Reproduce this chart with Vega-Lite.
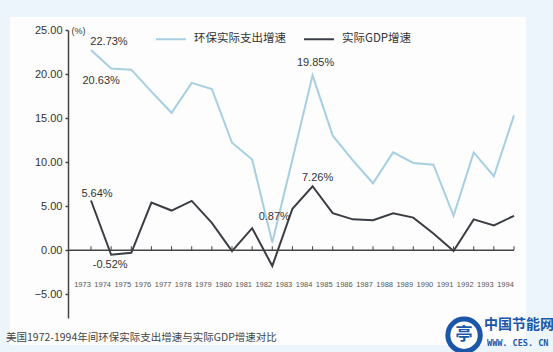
{
  "$schema": "https://vega.github.io/schema/vega-lite/v6.json",
  "width": 446,
  "height": 288,
  "autosize": {"type": "none"},
  "padding": {"left": 68, "top": 30, "right": 39, "bottom": 34},
  "background": "#ecf4fc",
  "config": {
    "view": {"stroke": null},
    "font": "Liberation Sans",
    "axisX": {"labelOverlap": false, "labelBound": false, "labelFlush": false}
  },
  "title": {
    "text": "美国1972-1994年间环保实际支出增速与实际GDP增速对比",
    "orient": "bottom",
    "anchor": "start",
    "frame": "group",
    "dx": -62,
    "dy": -13,
    "offset": -15,
    "font": "Noto Sans CJK SC",
    "fontSize": 10.5,
    "fontWeight": "normal",
    "color": "#444444"
  },
  "datasets": {
    "series": [
      {"year": 1973, "series": "环保实际支出增速", "value": 22.73},
      {"year": 1974, "series": "环保实际支出增速", "value": 20.63},
      {"year": 1975, "series": "环保实际支出增速", "value": 20.5},
      {"year": 1976, "series": "环保实际支出增速", "value": 18.0},
      {"year": 1977, "series": "环保实际支出增速", "value": 15.6},
      {"year": 1978, "series": "环保实际支出增速", "value": 19.0},
      {"year": 1979, "series": "环保实际支出增速", "value": 18.3},
      {"year": 1980, "series": "环保实际支出增速", "value": 12.2},
      {"year": 1981, "series": "环保实际支出增速", "value": 10.3},
      {"year": 1982, "series": "环保实际支出增速", "value": 0.87},
      {"year": 1983, "series": "环保实际支出增速", "value": 10.3},
      {"year": 1984, "series": "环保实际支出增速", "value": 19.85},
      {"year": 1985, "series": "环保实际支出增速", "value": 13.0},
      {"year": 1986, "series": "环保实际支出增速", "value": 10.2},
      {"year": 1987, "series": "环保实际支出增速", "value": 7.6},
      {"year": 1988, "series": "环保实际支出增速", "value": 11.1},
      {"year": 1989, "series": "环保实际支出增速", "value": 9.9},
      {"year": 1990, "series": "环保实际支出增速", "value": 9.7},
      {"year": 1991, "series": "环保实际支出增速", "value": 3.9},
      {"year": 1992, "series": "环保实际支出增速", "value": 11.1},
      {"year": 1993, "series": "环保实际支出增速", "value": 8.4},
      {"year": 1994, "series": "环保实际支出增速", "value": 15.3},
      {"year": 1973, "series": "实际GDP增速", "value": 5.64},
      {"year": 1974, "series": "实际GDP增速", "value": -0.52},
      {"year": 1975, "series": "实际GDP增速", "value": -0.3},
      {"year": 1976, "series": "实际GDP增速", "value": 5.4},
      {"year": 1977, "series": "实际GDP增速", "value": 4.5},
      {"year": 1978, "series": "实际GDP增速", "value": 5.6},
      {"year": 1979, "series": "实际GDP增速", "value": 3.1},
      {"year": 1980, "series": "实际GDP增速", "value": -0.1},
      {"year": 1981, "series": "实际GDP增速", "value": 2.5},
      {"year": 1982, "series": "实际GDP增速", "value": -1.8},
      {"year": 1983, "series": "实际GDP增速", "value": 4.7},
      {"year": 1984, "series": "实际GDP增速", "value": 7.26},
      {"year": 1985, "series": "实际GDP增速", "value": 4.2},
      {"year": 1986, "series": "实际GDP增速", "value": 3.5},
      {"year": 1987, "series": "实际GDP增速", "value": 3.4},
      {"year": 1988, "series": "实际GDP增速", "value": 4.2},
      {"year": 1989, "series": "实际GDP增速", "value": 3.7},
      {"year": 1990, "series": "实际GDP增速", "value": 1.9},
      {"year": 1991, "series": "实际GDP增速", "value": -0.1},
      {"year": 1992, "series": "实际GDP增速", "value": 3.5},
      {"year": 1993, "series": "实际GDP增速", "value": 2.8},
      {"year": 1994, "series": "实际GDP增速", "value": 3.9}
    ],
    "labels": [
      {"year": 1973, "series": "环保实际支出增速", "value": 22.73, "label": "22.73%"},
      {"year": 1974, "series": "环保实际支出增速", "value": 20.63, "label": "20.63%"},
      {"year": 1973, "series": "实际GDP增速", "value": 5.64, "label": "5.64%"},
      {"year": 1974, "series": "实际GDP增速", "value": -0.52, "label": "-0.52%"},
      {"year": 1982, "series": "环保实际支出增速", "value": 0.87, "label": "0.87%"},
      {"year": 1984, "series": "环保实际支出增速", "value": 19.85, "label": "19.85%"},
      {"year": 1984, "series": "实际GDP增速", "value": 7.26, "label": "7.26%"}
    ]
  },
  "layer": [
    {
      "data": {"values": [{}]},
      "mark": {"type": "rect", "fill": "#fdfdfd", "clip": false},
      "encoding": {
        "x": {
          "datum": 1968.98, "type": "quantitative", "title": null,
          "scale": {"domain": [1971.858, 1994], "nice": false, "zero": false},
          "axis": {
            "values": [1973,1974,1975,1976,1977,1978,1979,1980,1981,1982,1983,1984,1985,1986,1987,1988,1989,1990,1991,1992,1993,1994],
            "tickCount": 40,
            "format": "d", "offset": -40, "domain": false, "ticks": false, "tickSize": 0, "grid": false, "zindex": 2,
            "labelOffset": -9, "labelPadding": 2, "labelFont": "Liberation Sans", "labelFontSize": 7.5,
            "labelColor": "#555555", "labelFlush": false, "labelOverlap": false, "labelBound": false
          }
        },
        "x2": {"datum": 1994.6},
        "y": {
          "datum": 26.48, "type": "quantitative", "title": "(%)",
          "scale": {"domain": [-7.7, 25], "nice": false, "zero": false},
          "axis": {
            "values": [-5, 0, 5, 10, 15, 20, 25], "tickCount": 10, "format": ".2f", "grid": false, "zindex": 2,
            "domainColor": "#444444", "domainWidth": 1.5, "tickColor": "#444444", "tickSize": 3, "tickWidth": 1.5,
            "labelFontSize": 11, "labelColor": "#333333", "labelPadding": 3, "labelFlush": false,
            "titleAngle": 0, "titleX": 3, "titleY": 0, "titleAlign": "left", "titleBaseline": "middle",
            "titleFontSize": 9, "titleFontWeight": "normal", "titleColor": "#333333"
          }
        },
        "y2": {"datum": -10.77}
      }
    },
    {
      "data": {"values": [{}]},
      "mark": {"type": "rule", "color": "#444444", "strokeWidth": 1.5},
      "encoding": {"y": {"datum": 0, "type": "quantitative", "title": "(%)"}}
    },
    {
      "data": {"name": "series"},
      "transform": [{"filter": "datum.series == '实际GDP增速'"}],
      "mark": {"type": "rule", "color": "#444444", "strokeWidth": 1},
      "encoding": {
        "x": {"field": "year", "type": "quantitative", "title": null, "axis": {"labelOverlap": false}},
        "y": {"datum": 0, "type": "quantitative", "title": "(%)"},
        "y2": {"datum": 0.45}
      }
    },
    {
      "data": {"name": "series"},
      "mark": {"type": "line", "strokeWidth": 2},
      "encoding": {
        "x": {"field": "year", "type": "quantitative", "title": null, "axis": {"labelOverlap": false}},
        "y": {"field": "value", "type": "quantitative", "title": "(%)"},
        "color": {
          "field": "series", "type": "nominal",
          "scale": {"domain": ["环保实际支出增速", "实际GDP增速"], "range": ["#a6cfe2", "#3a3e44"]},
          "legend": {
            "orient": "none", "legendX": 87, "legendY": -7, "direction": "horizontal", "title": null,
            "symbolType": "stroke", "symbolSize": 900, "symbolStrokeWidth": 2,
            "labelFont": "Noto Sans CJK SC", "labelFontSize": 11.5, "labelColor": "#333333",
            "labelOffset": 7, "columnPadding": 14
          }
        }
      }
    },
    {
      "data": {"name": "labels"},
      "transform": [{"filter": "datum.label == '22.73%'"}],
      "mark": {"type": "text", "fontSize": 11, "color": "#333333", "dx": 18, "dy": -8},
      "encoding": {"x": {"field": "year", "type": "quantitative", "title": null, "axis": {"labelOverlap": false}}, "y": {"field": "value", "type": "quantitative", "title": "(%)"}, "text": {"field": "label"}}
    },
    {
      "data": {"name": "labels"},
      "transform": [{"filter": "datum.label == '20.63%'"}],
      "mark": {"type": "text", "fontSize": 11, "color": "#333333", "dx": -10, "dy": 13},
      "encoding": {"x": {"field": "year", "type": "quantitative", "title": null, "axis": {"labelOverlap": false}}, "y": {"field": "value", "type": "quantitative", "title": "(%)"}, "text": {"field": "label"}}
    },
    {
      "data": {"name": "labels"},
      "transform": [{"filter": "datum.label == '5.64%'"}],
      "mark": {"type": "text", "fontSize": 11, "color": "#333333", "dx": 6, "dy": -7},
      "encoding": {"x": {"field": "year", "type": "quantitative", "title": null, "axis": {"labelOverlap": false}}, "y": {"field": "value", "type": "quantitative", "title": "(%)"}, "text": {"field": "label"}}
    },
    {
      "data": {"name": "labels"},
      "transform": [{"filter": "datum.label == '-0.52%'"}],
      "mark": {"type": "text", "fontSize": 11, "color": "#333333", "dx": -1, "dy": 10},
      "encoding": {"x": {"field": "year", "type": "quantitative", "title": null, "axis": {"labelOverlap": false}}, "y": {"field": "value", "type": "quantitative", "title": "(%)"}, "text": {"field": "label"}}
    },
    {
      "data": {"name": "labels"},
      "transform": [{"filter": "datum.label == '0.87%'"}],
      "mark": {"type": "text", "fontSize": 11, "color": "#333333", "dx": 2, "dy": -26},
      "encoding": {"x": {"field": "year", "type": "quantitative", "title": null, "axis": {"labelOverlap": false}}, "y": {"field": "value", "type": "quantitative", "title": "(%)"}, "text": {"field": "label"}}
    },
    {
      "data": {"name": "labels"},
      "transform": [{"filter": "datum.label == '19.85%'"}],
      "mark": {"type": "text", "fontSize": 11, "color": "#333333", "dx": 3, "dy": -12},
      "encoding": {"x": {"field": "year", "type": "quantitative", "title": null, "axis": {"labelOverlap": false}}, "y": {"field": "value", "type": "quantitative", "title": "(%)"}, "text": {"field": "label"}}
    },
    {
      "data": {"name": "labels"},
      "transform": [{"filter": "datum.label == '7.26%'"}],
      "mark": {"type": "text", "fontSize": 11, "color": "#333333", "dx": 5, "dy": -8},
      "encoding": {"x": {"field": "year", "type": "quantitative", "title": null, "axis": {"labelOverlap": false}}, "y": {"field": "value", "type": "quantitative", "title": "(%)"}, "text": {"field": "label"}}
    },
    {
      "data": {"values": [{}]},
      "mark": {"type": "point", "shape": "circle", "size": 1050, "filled": true, "fill": "#ffffff", "stroke": "#1b57a8", "strokeWidth": 5, "opacity": 1, "clip": false},
      "encoding": {"x": {"datum": 1991.52, "type": "quantitative", "title": null, "axis": {"labelOverlap": false}}, "y": {"datum": -9.65, "type": "quantitative", "title": "(%)"}}
    },
    {
      "data": {"values": [{}]},
      "mark": {"type": "text", "text": "亭", "font": "Noto Sans CJK SC", "fontWeight": "bold", "fontSize": 17, "color": "#1b57a8", "align": "center", "baseline": "middle", "clip": false},
      "encoding": {"x": {"datum": 1991.52, "type": "quantitative", "title": null, "axis": {"labelOverlap": false}}, "y": {"datum": -9.65, "type": "quantitative", "title": "(%)"}}
    },
    {
      "data": {"values": [{}]},
      "mark": {"type": "text", "text": "中国节能网", "font": "Noto Sans CJK SC", "fontWeight": "bold", "fontSize": 14, "color": "#1b57a8", "align": "left", "baseline": "middle", "clip": false},
      "encoding": {"x": {"datum": 1992.51, "type": "quantitative", "title": null, "axis": {"labelOverlap": false}}, "y": {"datum": -8.5, "type": "quantitative", "title": "(%)"}}
    },
    {
      "data": {"values": [{}]},
      "mark": {"type": "text", "text": "WWW. CES. CN", "font": "DejaVu Sans Mono", "fontWeight": "bold", "fontSize": 8.5, "color": "#1b57a8", "align": "left", "baseline": "middle", "clip": false},
      "encoding": {"x": {"datum": 1992.66, "type": "quantitative", "title": null, "axis": {"labelOverlap": false}}, "y": {"datum": -10.54, "type": "quantitative", "title": "(%)"}}
    }
  ]
}
